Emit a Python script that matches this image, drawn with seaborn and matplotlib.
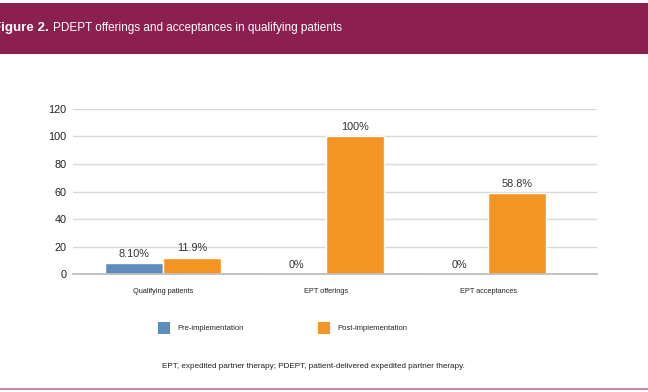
import matplotlib
matplotlib.use("Agg")
import matplotlib.pyplot as plt
import seaborn as sns
import pandas as pd
from matplotlib.patches import Rectangle, Patch

categories = ["Qualifying patients", "EPT offerings", "EPT acceptances"]
pre_values = [8.1, 0, 0]
post_values = [11.9, 100, 58.8]
pre_labels = ["8.10%", "0%", "0%"]
post_labels = ["11.9%", "100%", "58.8%"]
series = ["Pre-implementation", "Post-implementation"]
yticks = [0, 20, 40, 60, 80, 100, 120]

sns.set_theme(style="white")
plt.rcParams['font.family'] = ['Liberation Sans', 'DejaVu Sans']

df = pd.DataFrame({
    "category": categories * 2,
    "value": pre_values + post_values,
    "series": [series[0]] * 3 + [series[1]] * 3,
})

W, H = 648, 392
fig = plt.figure(figsize=(W / 100, H / 100), dpi=100)
fig.patch.set_facecolor("white")

# header band
fig.patches.append(Rectangle((0, 1 - 54 / H), 1, 51 / H, transform=fig.transFigure,
                             facecolor="#8B1F4F", edgecolor="none", zorder=0))
fig.text(49 / W, 1 - 28 / H, "Figure 2.", color="white", fontsize=9.6,
         fontweight="bold", va="center", ha="right")
fig.text(53 / W, 1 - 28 / H, "PDEPT offerings and acceptances in qualifying patients",
         color="white", fontsize=8.5, va="center", ha="left")
# bottom line
fig.patches.append(Rectangle((0, 2 / H), 1, 2 / H, transform=fig.transFigure,
                             facecolor="#C98AA8", edgecolor="none", zorder=0))

ax = fig.add_axes([73 / W, 1 - 274 / H, (597 - 73) / W, (274 - 109) / H])
palette = {series[0]: "#5E8CBD", series[1]: "#F39423"}
sns.barplot(data=df, x="category", y="value", hue="series", palette=palette,
            width=0.714, saturation=1, ax=ax, legend=False)

ax.set_ylim(0, 120)
ax.set_xlim(-0.554, 2.67)
ax.set_yticks(yticks)
ax.set_yticklabels([str(t) for t in yticks], fontsize=7.8, color="#222222")
ax.yaxis.grid(True, color="#D9D9D9", linewidth=1)
ax.set_axisbelow(True)
for s in ["top", "right", "left"]:
    ax.spines[s].set_visible(False)
ax.spines["bottom"].set_color("#BBBBBB")
ax.tick_params(axis="y", length=0, pad=4.5)
ax.tick_params(axis="x", length=0, pad=10, labelsize=5.3, labelcolor="#222222")
ax.set_xlabel("")
ax.set_ylabel("")

conts = ax.containers
ax.bar_label(conts[0], labels=pre_labels, fontsize=7.8, padding=3, color="#333333")
ax.bar_label(conts[1], labels=post_labels, fontsize=7.8, padding=3, color="#333333")

# legend
handles = [Patch(facecolor=palette[s], edgecolor="none") for s in series]
fig.legend(handles, series, loc="center left", bbox_to_anchor=(151 / W, 1 - 328 / H),
           ncol=2, frameon=False, fontsize=5.5, handlelength=1.6, handleheight=2.0,
           columnspacing=9.8, handletextpad=0.9)

fig.text(162 / W, 1 - 366 / H,
         "EPT, expedited partner therapy; PDEPT, patient-delivered expedited partner therapy.",
         fontsize=5.9, color="#222222", va="center", ha="left")

fig.savefig("out.png", dpi=100)
